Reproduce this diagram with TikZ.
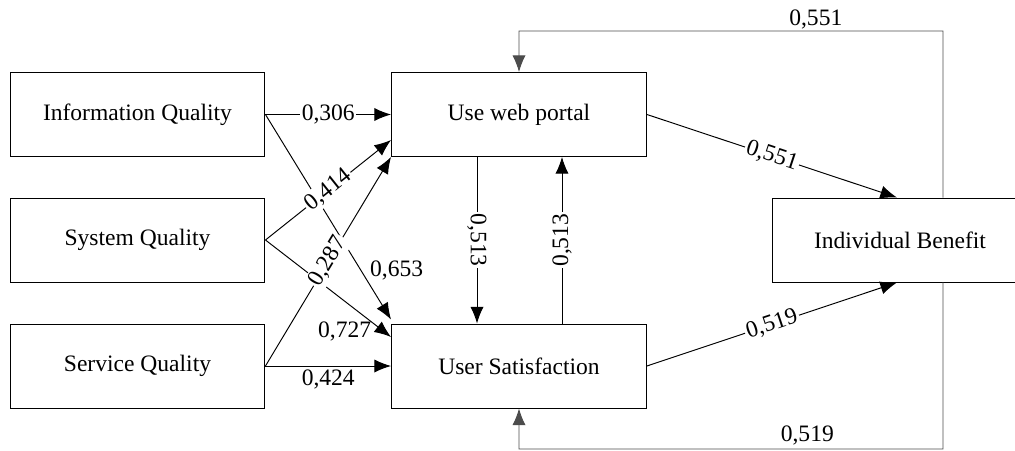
\documentclass[tikz,border=0pt]{standalone}
\usepackage{fontspec}
\setmainfont{Liberation Serif}
\usetikzlibrary{arrows.meta}

\begin{document}
\begin{tikzpicture}
    [x=0.02cm, y=-0.02cm,
 font=\rmfamily\fontsize{13.4}{16}\selectfont,
 block/.style ={rectangle, draw=black, line width=0.55pt, fill=white, minimum width=5.1cm, minimum height=1.68cm, align=center, inner sep=0pt},
 line/.style ={draw, line width=0.55pt, -{Latex[length=9.5pt,width=7.5pt]}},
 back/.style ={line, draw=black!70},
 coef/.style ={fill=white, inner sep=1pt, sloped},
 note/.style ={inner sep=2pt}]
    \clip (0,0) rectangle (1015,450);
    \node[block] (info) at (137.5,114.5) {Information Quality};
    \node[block] (sys) at (137.5,240) {System Quality};
    \node[block] (serv) at (137.5,366) {Service Quality};
    \node[block] (use) at (519,114.5) {Use web portal};
    \node[block] (sat) at (519,366) {User Satisfaction};
    \node[block] (ben) at (900,240) {Individual Benefit};
    % these two first, the coefficients of the others lie over them
    \draw[line] (info.east) -- node[pos=0.76, right=3pt, note] {0,653} ([yshift=0.08cm]sat.north west);
    \draw[line] (sys.east) -- node[pos=0.63, below=0.34cm, note] {0,727} ([yshift=0.58cm]sat.west);
    \draw[line] (info.east) -- node[coef] {0,306} (use.west);
    \draw[line] (sys.east) -- node[coef] {0,414} ([yshift=-0.51cm]use.west);
    \draw[line] (serv.east) -- node[coef] {0,287} (use.south west);
    \draw[line] (serv.east) -- node[below, note] {0,424} (sat.west);
    \draw[line] ([xshift=-0.84cm]use.south) -- node[coef] {0,513} ([xshift=-0.84cm]sat.north);
    \draw[line] ([xshift=0.86cm]sat.north) -- node[coef] {0,513} ([xshift=0.86cm]use.south);
    \draw[line] (use.east) -- node[coef] {0,551} ([xshift=2.5cm]ben.north west);
    \draw[line] (sat.east) -- node[coef] {0,519} ([xshift=2.5cm]ben.south west);
    % feedback round the right side
    \coordinate (topr) at (943,31);
    \coordinate (botr) at (943,449);
    \draw[back] ([xshift=0.86cm]ben.north) -- (topr) -| node[pos=0.15, above, inner sep=1pt] {0,551} (use.north);
    \draw[back] ([xshift=0.86cm]ben.south) -- (botr) -| node[pos=0.16, above, note] {0,519} (sat.south);
\end{tikzpicture}
\end{document}
